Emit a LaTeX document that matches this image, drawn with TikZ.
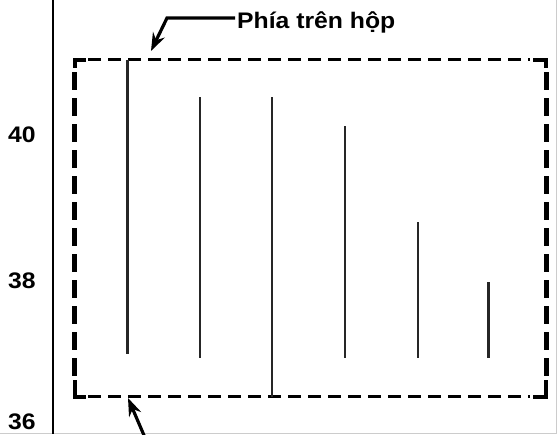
\documentclass[tikz,border=0pt]{standalone}
\usepackage{fontspec}
\setmainfont{Liberation Sans}
\usetikzlibrary{arrows.meta}
\begin{document}
\begin{tikzpicture}[x=1pt,y=-1pt,
  lab/.style={inner sep=0pt,font=\bfseries\fontsize{22.5}{22.5}\selectfont},
  tick/.style={line width=2.2pt,black!85},
  hdash/.style={line width=3.8pt,dash pattern=on 13pt off 7pt},
  vdash/.style={line width=5pt,dash pattern=on 18pt off 8pt},
  corner/.style={line width=4pt},
  pointer/.style={line width=3.2pt,-{Stealth[length=18pt,width=13pt,inset=6pt]}}]
\useasboundingbox (0,0) rectangle (557,434);
\fill[white] (0,0) rectangle (557,434);
% faint frame
\draw[gray!40,line width=1pt] (556,0) -- (556,433) -- (0,433);
% axis
\draw[line width=2.2pt] (53,0) -- (53,434);
\node[lab,anchor=base west] (y40) at (8,142) {\scalebox{1.1}[1]{40}};
\node[lab,anchor=base west] (y38) at (8,288) {\scalebox{1.1}[1]{38}};
\node[lab,anchor=base west] (y36) at (8,429) {\scalebox{1.1}[1]{36}};
% dashed box
\draw[hdash] (88,59.5) -- (530,59.5);
\draw[hdash] (88,396.5) -- (530,396.5);
\draw[vdash] (74.5,72) -- (74.5,382);
\draw[vdash] (546,72) -- (546,382);
\draw[corner] (86,59.5) -- (74.5,59.5) -- (74.5,68);
\draw[corner] (86,396.5) -- (74.5,396.5) -- (74.5,380);
\draw[corner] (533,59.5) -- (546,59.5) -- (546,68);
\draw[corner] (533,396.5) -- (546,396.5) -- (546,380);
% vertical lines
\draw[tick] (127.5,59.5) -- (127.5,354);
\draw[tick] (200,97) -- (200,358);
\draw[tick] (272,97) -- (272,396.5);
\draw[tick] (345,126) -- (345,358);
\draw[tick] (418,222) -- (418,358);
\draw[tick] (488.5,282) -- (488.5,358);
% label and pointers
\node[lab,anchor=base west] (lbl) at (237,28) {\scalebox{1.1}[1]{Phía trên hộp}};
\coordinate (bend) at (167,18);
\coordinate (toptip) at (151,51);
\coordinate (botstart) at (146,440);
\coordinate (bottip) at (128,398);
\draw[pointer] ([xshift=-2pt]lbl.west |- bend) -- (bend) -- (toptip);
\draw[pointer] (botstart) -- (bottip);
\end{tikzpicture}
\end{document}
